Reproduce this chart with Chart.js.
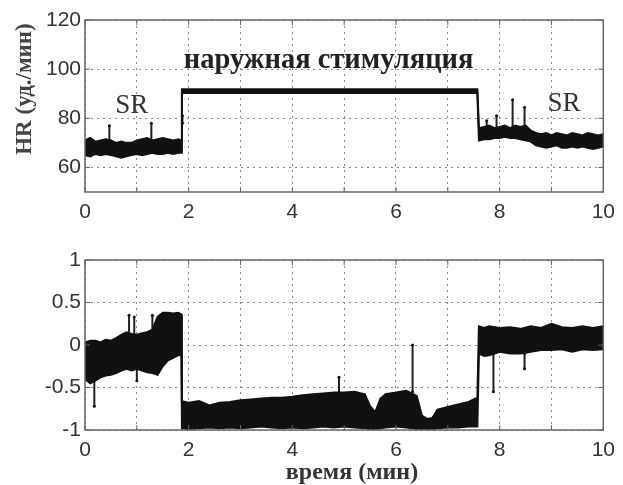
<!DOCTYPE html>
<html>
<head>
<meta charset="utf-8">
<script src="https://cdn.jsdelivr.net/npm/chart.js@4.4.1/dist/chart.umd.min.js"></script>
<style>
  body { margin: 0; background: #fff; }
  .caixa { position: absolute; left: 0; width: 623px; }
</style>
</head>
<body>
<div class="caixa" style="top:0;height:240px"><canvas id="graficoHR" width="623" height="240"></canvas></div>
<div class="caixa" style="top:240px;height:245px"><canvas id="graficoEta" width="623" height="245"></canvas></div>
<script>
  // ---- dados ----
  // painel de cima: HR (уд./мин), faixa do ruído = limite alto / baixo
  const tempoHR = [0, 0.1, 0.2, 0.3, 0.4, 0.5, 0.6, 0.7, 0.8, 0.9, 1.0, 1.1, 1.2, 1.3, 1.4, 1.5, 1.6, 1.7, 1.8, 1.86,
    1.87, 2.5, 3.5, 4.5, 5.5, 6.5, 7.57,
    7.6, 7.7, 7.8, 7.9, 8.0, 8.1, 8.2, 8.3, 8.4, 8.5, 8.6, 8.7, 8.8, 8.9, 9.0, 9.1, 9.2, 9.3, 9.4, 9.5, 9.6, 9.7, 9.8, 9.9, 10];
  const hrAlto = [71, 72, 70.5, 71, 71.5, 71, 70, 70.5, 70, 70, 71, 71.5, 72, 71, 71.5, 72, 71.5, 71, 71.5, 71,
    91.8, 91.8, 91.8, 91.8, 91.8, 91.8, 91.8,
    76, 76.5, 77, 76, 76.5, 77, 76, 77, 76.5, 77, 75, 74, 73.5, 74, 73, 74, 73.5, 73, 74, 73.5, 73, 74, 73.5, 73, 73.5];
  const hrBaixo = [65, 64.5, 65.5, 65, 65.5, 65, 64.5, 64, 64.5, 65, 65.5, 65, 65.5, 66, 65.5, 65.5, 66, 65.5, 66, 66,
    90.3, 90.3, 90.3, 90.3, 90.3, 90.3, 90.3,
    71, 71.5, 71.5, 72, 72, 72.5, 72, 72, 71.5, 71, 70.5, 69, 68.5, 68, 68.5, 69, 68, 68, 68.5, 68, 68.5, 68, 67.5, 68, 68.5];
  const hrPicoT = [0.47, 1.28, 1.88, 7.75, 7.94, 8.25, 8.48];
  const hrPicoBase = [71, 71, 78, 76, 76, 76, 76];
  const hrPicoTopo = [77, 78, 81, 79, 81, 87.5, 84.5];
  const hrTicks = [60, 80, 100, 120];

  // painel de baixo: η
  const tempoEta = [0, 0.1, 0.2, 0.3, 0.4, 0.5, 0.6, 0.7, 0.8, 0.9, 1.0, 1.1, 1.2, 1.3, 1.4, 1.5, 1.6, 1.7, 1.8, 1.86,
    1.87, 2.0, 2.2, 2.4, 2.6, 2.8, 3.0, 3.2, 3.4, 3.6, 3.8, 4.0, 4.2, 4.4, 4.6, 4.8, 5.0, 5.2, 5.4,
    5.5, 5.6, 5.7, 5.8, 6.0, 6.2, 6.4, 6.5, 6.6, 6.7, 6.8, 7.0, 7.2, 7.4, 7.57,
    7.6, 7.7, 7.8, 8.0, 8.2, 8.4, 8.6, 8.8, 9.0, 9.2, 9.4, 9.6, 9.8, 10];
  const etaAlto = [0.03, 0.05, 0.05, 0.03, 0.06, 0.05, 0.08, 0.12, 0.15, 0.13, 0.12, 0.14, 0.15, 0.18, 0.33, 0.38, 0.38, 0.37, 0.38, 0.36,
    -0.66, -0.68, -0.66, -0.71, -0.68, -0.67, -0.65, -0.64, -0.63, -0.62, -0.62, -0.61, -0.59, -0.58, -0.57, -0.56, -0.56, -0.55, -0.58,
    -0.72, -0.79, -0.63, -0.58, -0.56, -0.54, -0.6, -0.83, -0.87, -0.86, -0.76, -0.73, -0.7, -0.67, -0.62,
    0.22, 0.2, 0.22, 0.2, 0.21, 0.19, 0.22, 0.2, 0.25, 0.21, 0.2, 0.22, 0.2, 0.22];
  const etaBaixo = [-0.4, -0.45, -0.42, -0.38, -0.36, -0.35, -0.33, -0.3, -0.28, -0.3, -0.28, -0.3, -0.32, -0.33, -0.35, -0.25, -0.18, -0.15, -0.12, -0.12,
    -0.98, -0.99, -0.98, -0.97, -0.98, -0.97, -0.98, -0.97, -0.96, -0.97, -0.98, -0.97, -0.98, -0.97, -0.96, -0.97, -0.96, -0.97, -0.98,
    -0.99, -0.99, -0.98, -0.97, -0.96, -0.97, -0.99, -1.0, -1.01, -1.0, -0.98, -0.97, -0.97, -0.96, -0.96,
    -0.1, -0.13, -0.12, -0.08, -0.1, -0.1, -0.08, -0.06, -0.06, -0.05, -0.08, -0.05, -0.06, -0.05];
  const etaPicoT = [0.18, 0.85, 0.95, 1.0, 1.3, 4.9, 6.32, 7.88, 8.48];
  const etaPicoBase = [-0.4, 0.1, 0.1, -0.28, 0.15, -0.56, -0.55, -0.1, -0.1];
  const etaPicoTopo = [-0.72, 0.35, 0.33, -0.42, 0.35, -0.38, 0.0, -0.55, -0.28];
  const etaTicks = [-1, -0.5, 0, 0.5, 1];

  const xTicks = [0, 1, 2, 3, 4, 5, 6, 7, 8, 9, 10];

  function pontos(ts, vs) {
    return ts.map((t, i) => ({ x: t, y: vs[i] }));
  }

  function espinhos(ts, base, topo) {
    const d = [];
    ts.forEach((t, i) => {
      d.push({ x: t, y: base[i] }, { x: t, y: topo[i] }, { x: t, y: null });
    });
    return d;
  }

  // moldura, tracinhos para dentro e textos
  const moldura = {
    id: "moldura",
    afterDraw(chart, args, opts) {
      const { ctx, chartArea: a, scales } = chart;
      ctx.save();
      ctx.strokeStyle = "#666";
      ctx.lineWidth = 1.5;
      ctx.setLineDash([]);
      ctx.strokeRect(a.left, a.top, a.right - a.left, a.bottom - a.top);
      ctx.lineWidth = 1;
      scales.x.ticks.forEach((tk) => {
        const px = scales.x.getPixelForValue(tk.value);
        ctx.beginPath();
        ctx.moveTo(px, a.bottom); ctx.lineTo(px, a.bottom - 5);
        ctx.moveTo(px, a.top); ctx.lineTo(px, a.top + 5);
        ctx.stroke();
      });
      scales.y.ticks.forEach((tk) => {
        const py = scales.y.getPixelForValue(tk.value);
        ctx.beginPath();
        ctx.moveTo(a.left, py); ctx.lineTo(a.left + 5, py);
        ctx.moveTo(a.right, py); ctx.lineTo(a.right - 5, py);
        ctx.stroke();
      });

      (opts.textos || []).forEach((t) => {
        let px = t.px, py = t.py;
        if (t.x !== undefined) {
          px = scales.x.getPixelForValue(t.x);
          py = scales.y.getPixelForValue(t.y);
        }
        ctx.save();
        ctx.translate(px, py);
        if (t.rot) ctx.rotate(t.rot);
        ctx.font = t.font;
        ctx.fillStyle = t.color || "#333";
        ctx.textAlign = "center";
        ctx.textBaseline = t.base || "middle";
        ctx.fillText(t.text, 0, 0);
        ctx.restore();
      });
      ctx.restore();
    },
  };

  function eixoX(altura) {
    return {
      type: "linear",
      min: 0,
      max: 10,
      afterBuildTicks: (axis) => { axis.ticks = xTicks.map((v) => ({ value: v })); },
      afterFit: (axis) => { axis.height = altura; },
      grid: { color: "#888", lineWidth: 1, drawTicks: false },
      border: { display: false, dash: [2, 4] },
      ticks: {
        padding: 8,
        color: "#333",
        font: { family: "Arial, 'Liberation Sans'", size: 21 },
        callback: (v) => (v % 2 === 0 ? String(v) : ""),
      },
    };
  }

  function eixoY(min, max, lista) {
    return {
      min: min,
      max: max,
      afterBuildTicks: (axis) => { axis.ticks = lista.map((v) => ({ value: v })); },
      afterFit: (axis) => { axis.width = 85; },
      grid: { color: "#888", lineWidth: 1, drawTicks: false },
      border: { display: false, dash: [2, 4] },
      ticks: {
        padding: 4,
        color: "#333",
        font: { family: "Arial, 'Liberation Sans'", size: 21 },
        callback: (v) => String(v),
      },
    };
  }

  function faixa(ts, alto, baixo, picoT, picoBase, picoTopo) {
    return [
      {
        data: pontos(ts, alto),
        borderColor: "#111",
        borderWidth: 2,
        pointRadius: 0,
        tension: 0,
        fill: false,
      },
      {
        data: pontos(ts, baixo),
        borderColor: "#111",
        borderWidth: 2,
        pointRadius: 0,
        tension: 0,
        fill: "-1",
        backgroundColor: "#111",
      },
      {
        data: espinhos(picoT, picoBase, picoTopo),
        borderColor: "#222",
        borderWidth: 2,
        pointRadius: 1.5,
        pointBackgroundColor: "#111",
        pointBorderWidth: 0,
        spanGaps: false,
        tension: 0,
      },
    ];
  }

  const ctxHR = document.getElementById("graficoHR");

  var graficoHR = new Chart(ctxHR, {
    type: "line",
    data: { datasets: faixa(tempoHR, hrAlto, hrBaixo, hrPicoT, hrPicoBase, hrPicoTopo) },
    plugins: [moldura],
    options: {
      responsive: false,
      animation: false,
      layout: { padding: { left: 0, right: 13, top: 20, bottom: 0 } },
      plugins: {
        legend: { display: false },
        tooltip: { enabled: false },
        moldura: {
          textos: [
            { text: "HR (уд./мин)", px: 25, py: 89, rot: -Math.PI / 2, font: "bold 23px 'Liberation Serif'", color: "#444" },
            { text: "наружная стимуляция", x: 4.7, y: 100.5, base: "alphabetic", font: "bold 28.5px 'Liberation Serif'", color: "#222" },
            { text: "SR", x: 0.9, y: 82.3, base: "alphabetic", font: "27px 'Liberation Serif'", color: "#333" },
            { text: "SR", x: 9.24, y: 83, base: "alphabetic", font: "27px 'Liberation Serif'", color: "#333" },
          ],
        },
      },
      scales: {
        x: eixoX(48),
        y: eixoY(50, 120, hrTicks),
      },
    },
  });

  const ctxEta = document.getElementById("graficoEta");

  var graficoEta = new Chart(ctxEta, {
    type: "line",
    data: { datasets: faixa(tempoEta, etaAlto, etaBaixo, etaPicoT, etaPicoBase, etaPicoTopo) },
    plugins: [moldura],
    options: {
      responsive: false,
      animation: false,
      layout: { padding: { left: 0, right: 13, top: 20, bottom: 0 } },
      plugins: {
        legend: { display: false },
        tooltip: { enabled: false },
        moldura: {
          textos: [
            { text: "η", px: 34, py: 330, font: "26px 'Liberation Serif'", color: "#444" },
            { text: "время (мин)", px: 352, py: 233, font: "bold 24px 'Liberation Serif'", color: "#333" },
          ],
        },
      },
      scales: {
        x: eixoX(55),
        y: eixoY(-1, 1, etaTicks),
      },
    },
  });
</script>
</body>
</html>
